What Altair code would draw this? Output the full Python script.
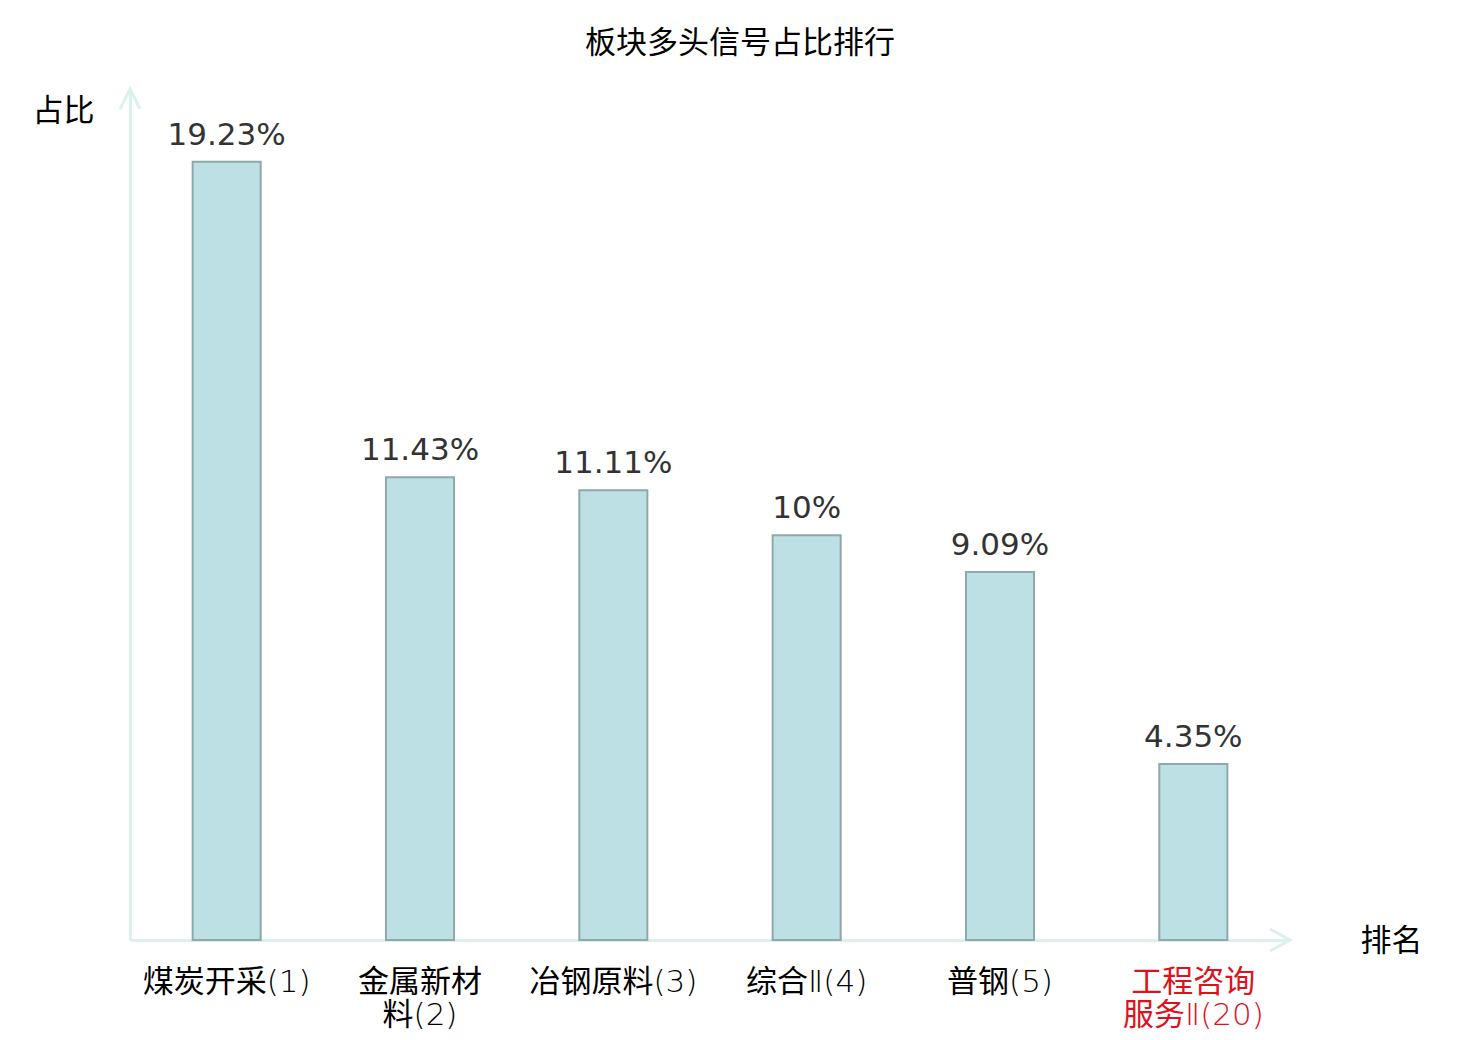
import altair as alt
import pandas as pd

categories = ["煤炭开采(1)", "金属新材\n料(2)", "冶钢原料(3)", "综合Ⅱ(4)", "普钢(5)", "工程咨询\n服务Ⅱ(20)"]
values = [19.23, 11.43, 11.11, 10.00, 9.09, 4.35]
value_labels = ["19.23%", "11.43%", "11.11%", "10%", "9.09%", "4.35%"]
highlight = "工程咨询\n服务Ⅱ(20)"

df = pd.DataFrame({"cat": categories, "val": values, "lab": value_labels})

W, H = 1160, 850
AXIS_COLOR = "#dcf1ee"
CJK = "Noto Sans CJK SC"
MIXED = "'DejaVu Sans ExtraLight', 'DejaVu Sans Light', 'Noto Sans CJK SC'"

x_enc = alt.X(
    "cat:N",
    sort=categories,
    scale=alt.Scale(paddingInner=0.648, paddingOuter=0.324),
    axis=alt.Axis(
        title="排名",
        titleFont=CJK,
        titleFontSize=31,
        titleFontWeight="normal",
        titleColor="#000000",
        titleAngle=0,
        titleAlign="center",
        titleBaseline="middle",
        titleX=1261,
        titleY=1,
        labelAngle=0,
        labelFont=MIXED,
        labelFontSize=31,
        labelFontWeight="normal",
        labelLineHeight=33,
        labelPadding=27,
        labelBaseline="top",
        labelExpr="split(datum.label, '\\n')",
        labelColor=alt.ExprRef(expr="datum.value == '" + highlight.replace("\n", "\\n") + "' ? '#e0101c' : '#000000'"),
        ticks=False,
        domainColor=AXIS_COLOR,
        domainWidth=3,
        grid=False,
    ),
)

y_enc = alt.Y(
    "val:Q",
    scale=alt.Scale(domain=[0, 21], nice=False, zero=True),
    axis=alt.Axis(
        title="占比",
        titleFont=CJK,
        titleFontSize=31,
        titleFontWeight="normal",
        titleColor="#000000",
        titleAngle=0,
        titleAlign="center",
        titleBaseline="middle",
        titleX=-67,
        titleY=21,
        labels=False,
        ticks=False,
        grid=False,
        domainColor=AXIS_COLOR,
        domainWidth=3,
    ),
)

bars = alt.Chart(df).mark_bar(
    fill="#bce0e3", stroke="#8fa9aa", strokeWidth=2
).encode(x=x_enc, y=y_enc)

texts = alt.Chart(df).mark_text(
    font="DejaVu Sans", fontSize=31, color="#333333", baseline="bottom", dy=-10
).encode(x=alt.X("cat:N", sort=categories), y="val:Q", text="lab:N")

one = pd.DataFrame({"a": [0]})
arrow_up = alt.Chart(one).mark_point(
    shape="M-1,2L0,0L1,2", filled=False, stroke=AXIS_COLOR, strokeWidth=3, size=400, opacity=1
).encode(x=alt.value(0), y=alt.value(-1))
arrow_right = alt.Chart(one).mark_point(
    shape="M-2,-1.1L0,0L-2,1.1", filled=False, stroke=AXIS_COLOR, strokeWidth=3, size=400, opacity=1
).encode(x=alt.value(W), y=alt.value(H))

chart = alt.layer(bars, texts, arrow_up, arrow_right).properties(
    width=W,
    height=H,
    background="#ffffff",
    title=alt.TitleParams(
        text="板块多头信号占比排行",
        font=CJK,
        fontSize=31,
        fontWeight="normal",
        color="#000000",
        anchor="middle",
        dx=30,
        offset=23,
    ),
    autosize=alt.AutoSizeParams(type="none"),
    padding={"left": 122, "top": 82, "right": 182, "bottom": 92},
).configure_view(strokeWidth=0, stroke="transparent")

chart.save("out.html", embed_options={"renderer": "svg", "actions": False})
